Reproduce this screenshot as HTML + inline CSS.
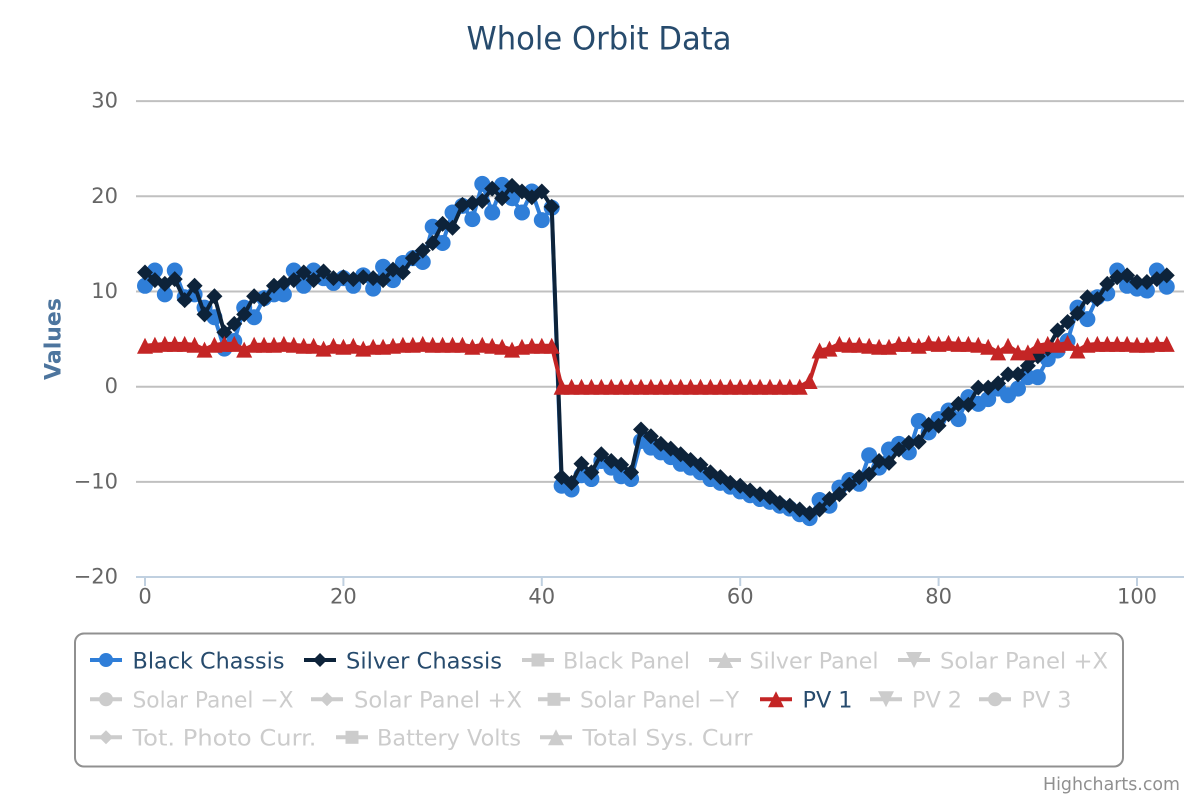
<!DOCTYPE html>
<html>
<head>
<meta charset="utf-8">
<style>
html,body{margin:0;padding:0;background:#fff;}
svg{display:block;font-family:"DejaVu Sans","Liberation Sans",sans-serif;}
</style>
</head>
<body>
<svg id="chart" width="1200" height="800" viewBox="0 0 1200 800" xmlns="http://www.w3.org/2000/svg">
<rect x="0" y="0" width="1200" height="800" fill="#ffffff"/>
<text x="599" y="49.3" text-anchor="middle" font-size="32" fill="#274b6d" textLength="265" lengthAdjust="spacingAndGlyphs">Whole Orbit Data</text>

<g stroke="#c0c0c0" stroke-width="2">
<line x1="136" y1="101.1" x2="1184" y2="101.1"/>
<line x1="136" y1="196.3" x2="1184" y2="196.3"/>
<line x1="136" y1="291.5" x2="1184" y2="291.5"/>
<line x1="136" y1="386.7" x2="1184" y2="386.7"/>
<line x1="136" y1="481.9" x2="1184" y2="481.9"/>
</g>
<line x1="136" y1="577" x2="1184" y2="577" stroke="#c0d0e0" stroke-width="2"/>
<g stroke="#c0d0e0" stroke-width="2">
<line x1="145" y1="577" x2="145" y2="586"/>
<line x1="343.4" y1="577" x2="343.4" y2="586"/>
<line x1="541.8" y1="577" x2="541.8" y2="586"/>
<line x1="740.2" y1="577" x2="740.2" y2="586"/>
<line x1="938.6" y1="577" x2="938.6" y2="586"/>
<line x1="1137" y1="577" x2="1137" y2="586"/>
</g>
<g font-size="21" fill="#666666" text-anchor="end">
<text x="118" y="107.6">30</text>
<text x="118" y="202.8">20</text>
<text x="118" y="298">10</text>
<text x="118" y="393.2">0</text>
<text x="118" y="488.4">−10</text>
<text x="118" y="583.6">−20</text>
</g>
<g font-size="21" fill="#666666" text-anchor="middle">
<text x="145" y="603.3">0</text>
<text x="343.4" y="603.3">20</text>
<text x="541.8" y="603.3">40</text>
<text x="740.2" y="603.3">60</text>
<text x="938.6" y="603.3">80</text>
<text x="1137" y="603.3">100</text>
</g>
<text transform="translate(60.5,339) rotate(-90)" text-anchor="middle" font-size="22" font-weight="bold" fill="#4d759e">Values</text>

<g id="series"></g>

<rect x="75" y="633.5" width="1048" height="133" rx="9" ry="9" fill="none" stroke="#909090" stroke-width="2"/>
<g id="legendsym"></g>
<g font-size="22.6">
<text x="132.5" y="668.3" fill="#274b6d" textLength="152" lengthAdjust="spacingAndGlyphs">Black Chassis</text>
<text x="346" y="668.3" fill="#274b6d" textLength="156" lengthAdjust="spacingAndGlyphs">Silver Chassis</text>
<text x="563" y="668.3" fill="#cccccc" textLength="127" lengthAdjust="spacingAndGlyphs">Black Panel</text>
<text x="749.5" y="668.3" fill="#cccccc" textLength="129" lengthAdjust="spacingAndGlyphs">Silver Panel</text>
<text x="940" y="668.3" fill="#cccccc" textLength="168" lengthAdjust="spacingAndGlyphs">Solar Panel +X</text>

<text x="132.5" y="707.6" fill="#cccccc" textLength="161" lengthAdjust="spacingAndGlyphs">Solar Panel −X</text>
<text x="354" y="707.6" fill="#cccccc" textLength="168" lengthAdjust="spacingAndGlyphs">Solar Panel +X</text>
<text x="580" y="707.6" fill="#cccccc" textLength="159" lengthAdjust="spacingAndGlyphs">Solar Panel −Y</text>
<text x="802.5" y="707.6" fill="#274b6d" textLength="50" lengthAdjust="spacingAndGlyphs">PV 1</text>
<text x="912" y="707.6" fill="#cccccc" textLength="50" lengthAdjust="spacingAndGlyphs">PV 2</text>
<text x="1021.5" y="707.6" fill="#cccccc" textLength="50" lengthAdjust="spacingAndGlyphs">PV 3</text>

<text x="132.5" y="745.6" fill="#cccccc" textLength="184" lengthAdjust="spacingAndGlyphs">Tot. Photo Curr.</text>
<text x="377" y="745.6" fill="#cccccc" textLength="144" lengthAdjust="spacingAndGlyphs">Battery Volts</text>
<text x="582.5" y="745.6" fill="#cccccc" textLength="170" lengthAdjust="spacingAndGlyphs">Total Sys. Curr</text>
</g>

<text x="1180" y="790" text-anchor="end" font-size="17.5" fill="#909090" textLength="137" lengthAdjust="spacingAndGlyphs">Highcharts.com</text>
</svg>
<script>
(function(){
var B=[10.6,12.2,9.7,12.2,9.4,9.7,8.3,7.3,4.0,4.8,8.3,7.3,9.3,9.7,9.7,12.2,10.6,12.2,11.4,10.9,
11.4,10.6,11.7,10.3,12.6,11.2,13.0,13.5,13.1,16.8,15.1,18.3,19.0,17.6,21.3,18.3,21.2,19.8,18.3,20.5,
17.5,18.8,-10.4,-10.8,-9.3,-9.7,-7.8,-8.5,-9.4,-9.7,-5.7,-6.4,-6.9,-7.4,-8.1,-8.5,-9.0,-9.7,-10.1,-10.5,
-11.0,-11.4,-11.8,-12.1,-12.5,-12.8,-13.4,-13.8,-11.9,-12.5,-10.6,-9.8,-10.2,-7.2,-8.5,-6.6,-6.0,-6.9,-3.6,-4.8,
-3.4,-2.5,-3.4,-1.1,-1.8,-1.3,-0.2,-0.9,-0.2,1.0,1.0,2.9,3.8,4.8,8.3,7.1,9.4,9.8,12.2,10.6,
10.3,10.1,12.2,10.5];
var S=[12.0,11.2,10.8,11.3,9.1,10.6,7.6,9.5,5.7,6.6,7.6,9.5,9.2,10.6,10.9,11.2,12.0,11.2,12.1,11.4,
11.5,11.3,11.5,11.4,11.2,12.3,12.0,13.5,14.3,15.1,17.1,16.7,19.1,19.3,19.5,20.8,19.8,21.1,20.5,19.9,
20.5,18.9,-9.5,-10.1,-8.1,-9.0,-7.1,-7.8,-8.2,-9.0,-4.5,-5.2,-6.0,-6.5,-7.1,-7.7,-8.2,-9.0,-9.5,-10.1,
-10.4,-10.9,-11.3,-11.6,-12.2,-12.5,-12.9,-13.3,-12.9,-11.8,-11.3,-10.3,-9.5,-9.2,-7.8,-8.0,-6.6,-5.9,-5.8,-4.0,
-4.1,-2.9,-1.8,-1.9,-0.1,-0.1,0.35,1.3,1.3,2.2,3.2,4.0,5.9,6.8,7.7,9.4,9.2,10.8,11.5,11.7,
11.0,11.0,11.3,11.7];
var P=[4.3,4.4,4.5,4.5,4.5,4.4,3.9,4.4,4.5,4.5,3.9,4.4,4.4,4.4,4.5,4.4,4.3,4.3,4.0,4.3,
4.2,4.3,4.0,4.2,4.2,4.3,4.4,4.4,4.5,4.4,4.4,4.4,4.4,4.2,4.4,4.3,4.2,3.9,4.2,4.3,
4.3,4.3];
for(var k=42;k<=66;k++)P.push(0);
P=P.concat([0.6,3.8,4.0,4.5,4.4,4.4,4.3,4.2,4.2,4.5,4.5,4.3,4.6,4.5,4.6,4.5,4.5,4.4,4.2,3.6,
4.3,3.6,3.6,4.3,4.5,4.4,4.6,3.8,4.4,4.5,4.5,4.5,4.5,4.4,4.4,4.5,4.5]);
function X(i){return 145+9.92*i;}
function Y(v){return 386.7-9.52*v;}
var NS="http://www.w3.org/2000/svg";
var g=document.getElementById("series");
function el(tag,attrs,parent){var e=document.createElementNS(NS,tag);for(var a in attrs)e.setAttribute(a,attrs[a]);parent.appendChild(e);return e;}
function sym(type,x,y,r,color,parent){
  if(type==="circle"){el("circle",{cx:x,cy:y,r:r,fill:color},parent);}
  else if(type==="diamond"){el("path",{d:"M"+x+","+(y-r)+"L"+(x+r)+","+y+"L"+x+","+(y+r)+"L"+(x-r)+","+y+"Z",fill:color},parent);}
  else if(type==="triangle"){el("path",{d:"M"+x+","+(y-r)+"L"+(x+r)+","+(y+r)+"L"+(x-r)+","+(y+r)+"Z",fill:color},parent);}
  else if(type==="triangle-down"){el("path",{d:"M"+(x-r)+","+(y-r)+"L"+(x+r)+","+(y-r)+"L"+x+","+(y+r)+"Z",fill:color},parent);}
  else if(type==="square"){el("rect",{x:x-r,y:y-r,width:2*r,height:2*r,fill:color},parent);}
}
function series(data,color,type){
  var pts=[];
  for(var i=0;i<data.length;i++)pts.push(X(i).toFixed(2)+","+Y(data[i]).toFixed(2));
  el("polyline",{points:pts.join(" "),fill:"none",stroke:color,"stroke-width":4,"stroke-linejoin":"round","stroke-linecap":"round"},g);
  var mg=el("g",{},g);
  for(var j=0;j<data.length;j++)sym(type,X(j),Y(data[j]),8,color,mg);
}
series(B,"#2f7ed8","circle");
series(S,"#0d233a","diamond");
series(P,"#c42525","triangle");

var lg=document.getElementById("legendsym");
var items=[
 [90,660,"circle","#2f7ed8"],[304,660,"diamond","#0d233a"],[522,660,"square","#cccccc"],[709,660,"triangle","#cccccc"],[898,660,"triangle-down","#cccccc"],
 [90,699.3,"circle","#cccccc"],[311,699.3,"diamond","#cccccc"],[538,699.3,"square","#cccccc"],[760,699.3,"triangle","#c42525"],[870,699.3,"triangle-down","#cccccc"],[979,699.3,"circle","#cccccc"],
 [90,737.3,"diamond","#cccccc"],[336,737.3,"square","#cccccc"],[540,737.3,"triangle","#cccccc"]
];
items.forEach(function(it){
  el("line",{x1:it[0],y1:it[1],x2:it[0]+32,y2:it[1],stroke:it[3],"stroke-width":4},lg);
  var r=7;
  if(it[2]==="square")r=6.5;
  if(it[2]==="triangle"||it[2]==="triangle-down")r=8;
  sym(it[2],it[0]+16,it[1],r,it[3],lg);
});
})();
</script>
</body>
</html>
